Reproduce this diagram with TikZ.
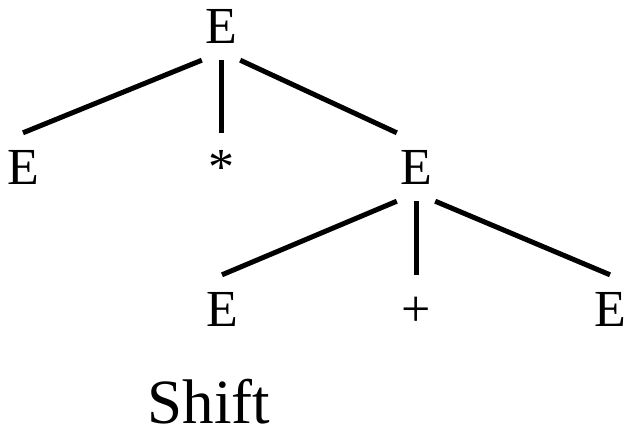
\documentclass[tikz,border=0pt]{standalone}
\usepackage{fontspec}
\setmainfont{Liberation Serif}
\tikzset{
  sym/.style={inner sep=0pt, minimum width=38pt, minimum height=68pt,
              font=\fontsize{52}{52}\selectfont, text height=34pt, text depth=0pt},
  branch/.style={line width=5pt, black},
  caption/.style={font=\fontsize{63}{63}\selectfont, anchor=base, inner sep=0pt,
                  text depth=0pt}
}
\begin{document}
\begin{tikzpicture}[x=1pt,y=-1pt]
\useasboundingbox (0,0) rectangle (625,429);
% parse tree: E * E, right E expanded to E + E
\node[sym] (root) at (221,26) {E};
\node[sym] (lhs) at (23,167) {E};
\node[sym] (star) at (221,167) {*};
\node[sym] (rhs) at (416,167) {E};
\node[sym] (lhs2) at (222,309) {E};
\node[sym] (plus) at (416,309) {+};
\node[sym] (rhs2) at (610,309) {E};
% branches
\draw[branch] (root.south west) -- (lhs.north);
\draw[branch] (root.south) -- (star.north);
\draw[branch] (root.south east) -- (rhs.north west);
\draw[branch] (rhs.south west) -- (lhs2.north);
\draw[branch] (rhs.south) -- (plus.north);
\draw[branch] (rhs.south east) -- (rhs2.north);
% step name
\node[caption] (step) at (209,423) {Shift};
\end{tikzpicture}
\end{document}
